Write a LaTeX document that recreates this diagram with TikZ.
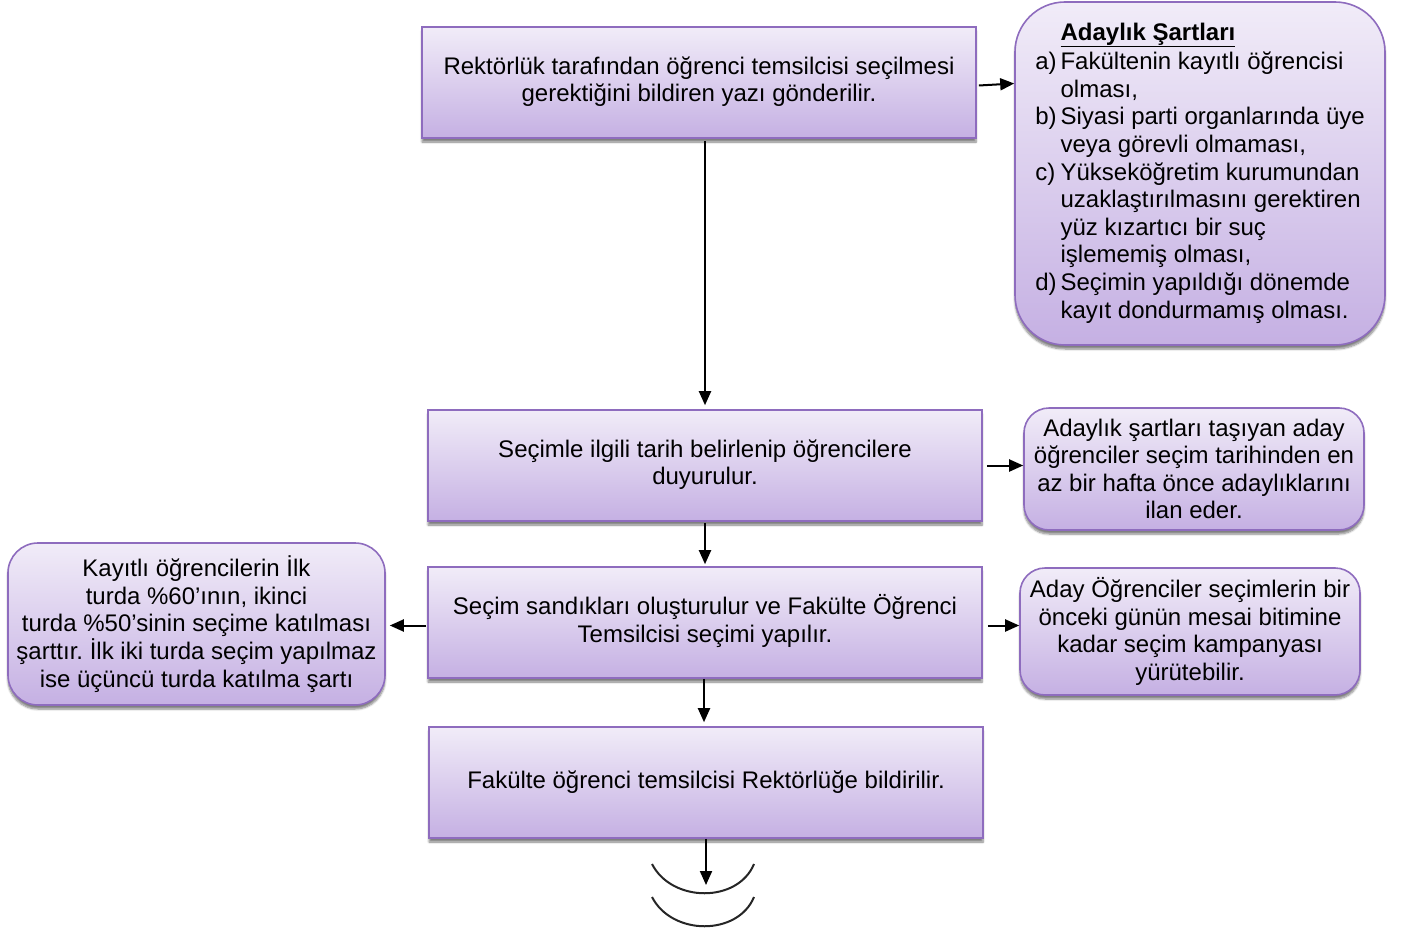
\documentclass[tikz,border=0pt]{standalone}
\usepackage{fontspec}
\setmainfont{Liberation Sans}
\usetikzlibrary{arrows.meta,shadows.blur}
\definecolor{boxtop}{HTML}{F1ECF8}
\definecolor{boxbot}{HTML}{C5B0E3}
\definecolor{boxline}{HTML}{8E6CBE}
\frenchspacing
\begin{document}
\begin{tikzpicture}[x=1pt,y=-1pt,
  font=\fontsize{24}{27.6}\selectfont,
  boxbase/.style={draw=boxline, line width=1.6pt, top color=boxtop, bottom color=boxbot,
    align=center, inner sep=0pt,
    blur shadow={shadow xshift=0pt, shadow yshift=-4pt, shadow opacity=50, shadow blur steps=6}},
  stepbox/.style={boxbase, minimum width=554pt, minimum height=111pt},
  sidebox/.style={boxbase, rounded corners=#1},
  conn/.style={line width=2pt, -{Triangle[length=14pt,width=12pt]}},
  arcline/.style={line width=2pt, draw=black!85}
]
\useasboundingbox (0,0) rectangle (1401,934);

\node[stepbox] (b1) at (699,82.5) {\strut Rektörlük tarafından öğrenci temsilcisi seçilmesi\\gerektiğini bildiren yazı gönderilir.\strut};
\node[stepbox] (b2) at (705,465.5) {\strut Seçimle ilgili tarih belirlenip öğrencilere\\duyurulur.\strut};
\node[stepbox] (b3) at (705,622.5) {\strut Seçim sandıkları oluşturulur ve Fakülte Öğrenci\\Temsilcisi seçimi yapılır.\strut};
\node[stepbox] (b4) at (706,782.5) {\strut Fakülte öğrenci temsilcisi Rektörlüğe bildirilir.\strut};

\node[sidebox=50pt, minimum width=370pt, minimum height=343pt] (sart) at (1200,173.5) {%
\begin{tabular}{@{}l@{\hspace{4pt}}l@{}}
 & \underline{\textbf{Adaylık Şartları}}\\[2pt]
a) & Fakültenin kayıtlı öğrencisi\\
 & olması,\\
b) & Siyasi parti organlarında üye\\
 & veya görevli olmaması,\\
c) & Yükseköğretim kurumundan\\
 & uzaklaştırılmasını gerektiren\\
 & yüz kızartıcı bir suç\\
 & işlememiş olması,\\
d) & Seçimin yapıldığı dönemde\\
 & kayıt dondurmamış olması.
\end{tabular}};

\node[sidebox=25pt, minimum width=340pt, minimum height=122pt] (r2) at (1194,469) {Adaylık şartları taşıyan aday\\öğrenciler seçim tarihinden en\\az bir hafta önce adaylıklarını\\ilan eder.};
\node[sidebox=25pt, minimum width=340pt, minimum height=127pt] (r3) at (1190,631.5) {Aday Öğrenciler seçimlerin bir\\önceki günün mesai bitimine\\kadar seçim kampanyası\\yürütebilir.};
\node[sidebox=30pt, minimum width=377pt, minimum height=162pt] (lf) at (196.5,624) {Kayıtlı öğrencilerin İlk\\turda \%60’ının, ikinci\\turda \%50’sinin seçime katılması\\şarttır. İlk iki turda seçim yapılmaz\\ise üçüncü turda katılma şartı};

\coordinate (endp) at (706,885);

\draw[conn] ([xshift=2pt,yshift=-3pt]b1.east) -- ([yshift=-1pt]b1.east -| sart.west);
\draw[conn] (b2.north |- b1.south) ++(0,2) -- ([yshift=4pt]b2.north);
\draw[conn] ([xshift=4pt]b2.east) -- (b2.east -| r2.west);
\draw[conn] ([yshift=-1pt]b2.south) -- ([yshift=2pt]b3.north);
\draw[conn] ([xshift=5pt,yshift=-3pt]b3.east) -- ([yshift=-3pt]b3.east -| r3.west);
\draw[conn] ([xshift=-1pt,yshift=-3pt]b3.west) -- ([xshift=4pt,yshift=-3pt]b3.west -| lf.east);
\draw[conn] ([xshift=-1pt]b3.south) -- ([xshift=-1pt,yshift=4pt]b3.south |- b4.north);
\draw[conn] (b4.south) -- (endp);

\draw[arcline] (652,864) .. controls (672,903) and (738,903) .. (754,864);
\draw[arcline] (652,897) .. controls (672,936) and (738,936) .. (754,897);
\end{tikzpicture}
\end{document}
